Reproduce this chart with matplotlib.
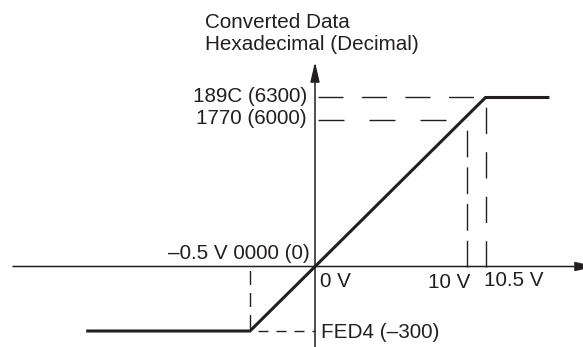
"""Analog input conversion chart: -0.5..10.5 V range mapped to FED4..189C.

The original is a schematic, not drawn to scale, so both axes use a
piecewise-linear scale that places each labelled value where the drawing has it.
"""

from __future__ import annotations

import matplotlib

matplotlib.use("Agg")
import matplotlib.pyplot as plt
import numpy as np

INK = "#231f20"
FONT = ["Liberation Sans", "DejaVu Sans"]
FONT_SIZE = 14.9

# values on the chart
VOLTS = [-0.5, 0, 10, 10.5]
VOLT_LABELS = ["\u20130.5 V", "0 V", "10 V", "10.5 V"]
COUNTS = [-300, 0, 6000, 6300]
COUNT_LABELS = ["FED4 (\u2013300)", "0000 (0)", "1770 (6000)", "189C (6300)"]

# conversion line, clamped outside the range
CURVE_VOLTS = [-1.76, -0.5, 10.5, 12.2]
CURVE_COUNTS = [-300, -300, 6300, 6300]

# where the schematic puts each value (pixels from the origin)
X_KNOTS_PX = [-65, 0, 151.7, 170.5]
Y_KNOTS_PX = [-64.5, 0, 146, 169]

W, H = 583, 347
ORIGIN = (315, 266.5)  # pixels, from top-left


def piecewise(src, dst):
    """Piecewise-linear map with linear extension past both ends."""
    src = np.asarray(src, float)
    dst = np.asarray(dst, float)
    lo = (dst[1] - dst[0]) / (src[1] - src[0])
    hi = (dst[-1] - dst[-2]) / (src[-1] - src[-2])

    def f(v):
        v = np.asarray(v, float)
        out = np.interp(v, src, dst)
        out = np.where(v < src[0], dst[0] + (v - src[0]) * lo, out)
        out = np.where(v > src[-1], dst[-1] + (v - src[-1]) * hi, out)
        return out

    return f


def px(n):
    """pixels -> points at dpi 100"""
    return n * 0.72


def guide(ax, x, y, on, off, offset=0.0):
    ax.plot(x, y, color=INK, lw=1.0, dash_capstyle="butt",
            linestyle=(px(offset), (px(on), px(off))))


def main() -> None:
    plt.rcParams["font.family"] = FONT
    plt.rcParams["lines.scale_dashes"] = False

    fig = plt.figure(figsize=(W / 100, H / 100), dpi=100)
    ax = fig.add_axes([0, 0, 1, 1])

    fx, ix = piecewise(VOLTS, X_KNOTS_PX), piecewise(X_KNOTS_PX, VOLTS)
    fy, iy = piecewise(COUNTS, Y_KNOTS_PX), piecewise(Y_KNOTS_PX, COUNTS)
    ax.set_xscale("function", functions=(fx, ix))
    ax.set_yscale("function", functions=(fy, iy))
    ax.set_xlim(float(ix(-ORIGIN[0])), float(ix(W - ORIGIN[0])))
    ax.set_ylim(float(iy(-(H - ORIGIN[1]))), float(iy(ORIGIN[1])))
    ax.axis("off")

    # axes with arrow heads
    ox, oy = ORIGIN[0] / W, 1 - ORIGIN[1] / H
    head = dict(arrowstyle="-|>,head_length=0.6,head_width=0.14",
                mutation_scale=20, color=INK, lw=1.1, shrinkA=0, shrinkB=0)
    ax.annotate("", xy=(595 / W, oy), xytext=(13 / W, oy),
                xycoords="axes fraction", textcoords="axes fraction",
                arrowprops=head)
    ax.annotate("", xy=(ox, 1 - 62 / H), xytext=(ox, 0),
                xycoords="axes fraction", textcoords="axes fraction",
                arrowprops=head)

    v_lo, v0, v10, v105 = VOLTS
    c_lo, c0, c6000, c6300 = COUNTS

    # dashed guides
    guide(ax, [v0, v105], [c6300, c6300], 25, 18.5, 40.5)
    guide(ax, [v0, v10], [c6000, c6000], 26, 25, 48)
    guide(ax, [v10, v10], [c0, c6000], 26.7, 10)
    guide(ax, [v105, v105], [c0, c6300], 26.3, 18.2)
    guide(ax, [v_lo, v_lo], [c0, c_lo], 14, 8, 18.5)
    guide(ax, [v_lo, v0], [c_lo, c_lo], 10, 8, 10)

    ax.plot(CURVE_VOLTS, CURVE_COUNTS, color=INK, lw=2.2,
            solid_joinstyle="miter", solid_capstyle="butt")

    def label(text, xy, dx, dy, ha):
        ax.annotate(text, xy=xy, xytext=(px(dx), px(dy)),
                    textcoords="offset points", ha=ha, va="baseline",
                    fontsize=FONT_SIZE, color=INK)

    label(COUNT_LABELS[3], (v0, c6300), -8, -5, "right")
    label(COUNT_LABELS[2], (v0, c6000), -8, -4, "right")
    label(f"{VOLT_LABELS[0]} {COUNT_LABELS[1]}", (v0, c0), -5, 7.5, "right")
    label(COUNT_LABELS[0], (v0, c_lo), 5.7, -6.5, "left")
    label(VOLT_LABELS[1], (v0, c0), 5, -20.5, "left")
    label(VOLT_LABELS[2], (v10, c0), 4, -21.5, "right")
    label(VOLT_LABELS[3], (v105, c0), -1, -19.5, "left")

    fig.text(205 / W, 1 - 28 / H, "Converted Data", ha="left", va="baseline",
             fontsize=FONT_SIZE, color=INK)
    fig.text(205 / W, 1 - 50 / H, "Hexadecimal (Decimal)", ha="left",
             va="baseline", fontsize=FONT_SIZE, color=INK)

    fig.savefig("out.png", dpi=100, facecolor="white")
    plt.close(fig)


if __name__ == "__main__":
    main()
